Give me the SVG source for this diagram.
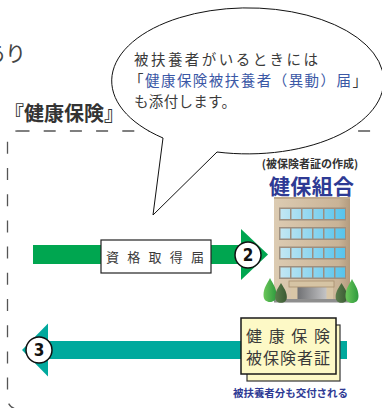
<svg xmlns="http://www.w3.org/2000/svg" width="382" height="408" viewBox="0 0 382 408">
  <style>
    .jp { font-family: "Noto Sans CJK JP", "Noto Sans CJK SC", sans-serif; }
    .gray { fill: #3a3a3a; }
    .navy { fill: #2e3a94; }
    .num { font-family: "Liberation Sans Narrow", "DejaVu Sans Condensed", "Liberation Sans", sans-serif; font-weight: bold; font-size: 17px; fill: #111; }
    .badge { fill: #fff; stroke: #111; stroke-width: 1.5; }
    .win { fill: url(#winGrad); }
    .winRow { fill: #9d8f80; }
  </style>
  <defs>
    <linearGradient id="bodyGrad" x1="0" y1="0" x2="1" y2="0">
      <stop offset="0" stop-color="#dccbb2"/>
      <stop offset="0.85" stop-color="#c9b396"/>
      <stop offset="1" stop-color="#b39b7e"/>
    </linearGradient>
    <linearGradient id="winGrad" x1="280" y1="0" x2="346" y2="0" gradientUnits="userSpaceOnUse">
      <stop offset="0" stop-color="#c3e7f3"/>
      <stop offset="1" stop-color="#55c3ec"/>
    </linearGradient>
    <linearGradient id="doorGrad" x1="0" y1="0" x2="1" y2="0">
      <stop offset="0" stop-color="#707174"/>
      <stop offset="1" stop-color="#c4c4c6"/>
    </linearGradient>
    <linearGradient id="treeLight" x1="0" y1="0" x2="1" y2="0">
      <stop offset="0" stop-color="#6cc75a"/>
      <stop offset="1" stop-color="#2e9a3e"/>
    </linearGradient>
    <linearGradient id="treeDark" x1="0" y1="0" x2="1" y2="0">
      <stop offset="0" stop-color="#5a7d4c"/>
      <stop offset="1" stop-color="#3a5a33"/>
    </linearGradient>
    <path id="tree" d="M0,0 C2.5,5 6.5,10 6.5,17 C6.5,22 3.5,24 0,24 C-3.5,24 -6.5,22 -6.5,17 C-6.5,10 -2.5,5 0,0 Z"/>
  </defs>

  <!-- cut-off heading from the previous section -->
  <text class="jp" x="26" y="61" font-size="21" text-anchor="end" fill="#444">あり</text>

  <!-- health insurance section frame -->
  <g id="section-frame">
    <rect x="7.5" y="131" width="400" height="278" rx="10" fill="none" stroke="#555" stroke-width="1.3" stroke-dasharray="12 14.2"/>
    <text class="jp" x="4" y="121" font-size="20" font-weight="bold" fill="#333">『健康保険』</text>
  </g>

  <!-- speech bubble -->
  <g id="bubble">
    <path d="M163,138 L153,215 L217,152 A136,73 0 1 0 163,138 Z" fill="#fff" stroke="#111" stroke-width="1"/>
    <text class="jp gray" font-size="14.5">
      <tspan x="134" y="65" textLength="184">被扶養者がいるときには</tspan>
      <tspan x="129" y="86" textLength="238">「<tspan fill="#3b58a6">健康保険被扶養者（異動）届</tspan>」</tspan>
      <tspan x="134" y="107" textLength="102">も添付します。</tspan>
    </text>
  </g>

  <!-- connectors -->
  <g id="connectors">
    <g id="arrow-submit">
      <rect x="33" y="245" width="209" height="19" fill="#00a650"/>
      <polygon points="241,229 268,254.5 241,280" fill="#00a650"/>
    </g>
    <g id="arrow-issue">
      <rect x="47" y="341" width="300" height="18" fill="#00a99d"/>
      <polygon points="48,323.5 22,350 48,376.5" fill="#00a99d"/>
    </g>
  </g>

  <!-- form label on the submit arrow -->
  <g id="form-label">
    <rect x="101" y="240" width="110" height="33" fill="#fff" stroke="#222" stroke-width="1.2"/>
    <text class="jp gray" x="106" y="262" font-size="13" textLength="98">資格取得届</text>
  </g>

  <g id="step-2">
    <circle class="badge" cx="248" cy="255" r="13"/>
    <text class="num" x="248" y="261" text-anchor="middle">2</text>
  </g>

  <g id="step-3">
    <circle class="badge" cx="39" cy="350" r="13"/>
    <text class="num" x="39" y="356" text-anchor="middle">3</text>
  </g>

  <!-- health insurance society -->
  <g id="kenpo">
    <text class="jp" x="310" y="168" font-size="11" font-weight="bold" fill="#333" text-anchor="middle">(被保険者証の作成)</text>
    <text class="jp navy" x="269" y="194" font-size="21" font-weight="bold" textLength="85">健保組合</text>

    <!-- building -->
    <rect x="274" y="197" width="76" height="105" fill="url(#bodyGrad)"/>
    <rect x="274" y="197" width="76" height="2" fill="#bfa98c"/>
    <g id="windows">
      <rect class="winRow" x="279" y="207.5" width="67" height="13"/>
      <rect class="winRow" x="279" y="227" width="67" height="13"/>
      <rect class="winRow" x="279" y="246.5" width="67" height="13"/>
      <rect class="winRow" x="279" y="266" width="67" height="13"/>
      <g id="winRowA">
        <rect class="win" x="280.5" y="209" width="9.5" height="10"/>
        <rect class="win" x="291.5" y="209" width="9.5" height="10"/>
        <rect class="win" x="302.5" y="209" width="9.5" height="10"/>
        <rect class="win" x="313.5" y="209" width="9.5" height="10"/>
        <rect class="win" x="324.5" y="209" width="9.5" height="10"/>
        <rect class="win" x="335.5" y="209" width="9.5" height="10"/>
      </g>
      <use href="#winRowA" y="19.5"/>
      <use href="#winRowA" y="39"/>
      <use href="#winRowA" y="58.5"/>
    </g>
    <!-- entrance -->
    <rect x="291" y="286" width="42" height="16" fill="#d8c6a7"/>
    <rect x="297.5" y="287" width="29" height="15" fill="url(#doorGrad)"/>
    <rect x="289" y="281" width="45" height="6" fill="#d6c4a4" stroke="#a8906e" stroke-width="0.8"/>
    <rect x="274" y="299" width="76" height="3.5" fill="#8e8e8e"/>
    <!-- trees -->
    <use href="#tree" x="270" y="278" fill="url(#treeLight)"/>
    <use href="#tree" transform="translate(281,283) scale(0.9,0.82)" fill="url(#treeDark)"/>
    <use href="#tree" transform="translate(341.5,283) scale(0.9,0.82)" fill="url(#treeDark)"/>
    <use href="#tree" x="352" y="279" fill="url(#treeLight)"/>
  </g>

  <!-- insurance card -->
  <g id="card">
    <rect x="247" y="325" width="93" height="56" fill="#fdf9c6" stroke="#333" stroke-width="1.2"/>
    <rect x="241" y="318" width="95" height="56" fill="#fdf9c6" stroke="#1a1a1a" stroke-width="1.5"/>
    <text class="jp gray" font-size="16">
      <tspan x="246" y="342" textLength="84">健康保険</tspan>
      <tspan x="246" y="364" textLength="84">被保険者証</tspan>
    </text>
    <text class="jp navy" x="233" y="397" font-size="10.5" font-weight="bold" textLength="115">被扶養者分も交付される</text>
  </g>
</svg>
